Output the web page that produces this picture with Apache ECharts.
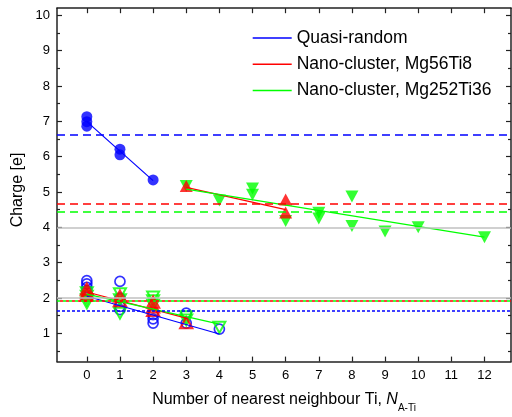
<!DOCTYPE html>
<html>
<head>
<meta charset="utf-8">
<script src="https://cdn.jsdelivr.net/npm/echarts@6/dist/echarts.min.js"></script>
<style>
  html, body { margin: 0; padding: 0; background: #fff; }
  #chart { width: 512px; height: 417px; }
</style>
</head>
<body>
<div id="chart"></div>
<script>
// Charge vs. number of nearest-neighbour Ti atoms, N(A-Ti)
const xTicks = [0, 1, 2, 3, 4, 5, 6, 7, 8, 9, 10, 11, 12];
const yTicks = [1, 2, 3, 4, 5, 6, 7, 8, 9, 10];
const yMinorTicks = [0.5, 1.5, 2.5, 3.5, 4.5, 5.5, 6.5, 7.5, 8.5, 9.5];

// Individual site charges [N, charge]
const quasiUpper = [[0, 7.13], [0, 6.99], [0, 6.86], [1, 6.21], [1, 6.05], [2, 5.34]];
const quasiLower = [[0, 2.49], [0, 2.40], [0, 2.30], [0, 2.20], [1, 2.47], [1, 2.00], [1, 1.76], [1, 1.67],
                    [2, 1.53], [2, 1.41], [2, 1.29], [3, 1.57], [3, 1.29], [4, 1.12]];
const mg56Upper = [[3, 5.17], [6, 4.79], [6, 4.42]];
const mg56Lower = [[0, 2.25], [0, 2.15], [0, 2.08], [1, 2.05], [1, 1.92], [2, 1.88], [2, 1.75], [2, 1.65], [3, 1.30]];
const mg252Upper = [[3, 5.17], [4, 4.76], [5, 5.10], [5, 4.92], [6, 4.18], [7, 4.41], [7, 4.25],
                    [8, 4.87], [8, 4.04], [9, 3.88], [10, 4.00], [12, 3.72]];
const mg252Lower = [[0, 2.15], [0, 2.05], [0, 1.95], [0, 1.86], [1, 2.12], [1, 1.95], [1, 1.57],
                    [2, 2.03], [2, 1.92], [2, 1.80], [3, 1.47], [3, 1.38], [4, 1.17]];

// Linear trend lines [N, charge] end points
const fitQuasiUpper = [[0, 6.99], [2, 5.32]];
const fitQuasiLower = [[0, 2.05], [4, 0.98]];
const fitMg56Upper = [[3, 5.13], [6, 4.50]];
const fitMg56Lower = [[0, 2.17], [3, 1.43]];
const fitMg252Upper = [[3, 5.08], [12, 3.72]];
const fitMg252Lower = [[0, 2.11], [4, 1.26]];

// Reference charge levels
const bulkLevels = [4, 2];
const quasiMeanUpper = 6.61, mg56MeanUpper = 4.68, mg252MeanUpper = 4.43;
const quasiMeanLower = 1.64, mg56MeanLower = 1.93, mg252MeanLower = 1.93;

const legendNames = ['Quasi-random', 'Nano-cluster, Mg56Ti8', 'Nano-cluster, Mg252Ti36'];

const BLUE = '#0000ff', RED = '#ff0000', GREEN = '#00ff00', GREY = '#c0c0c0', INK = '#222';
const FONT = 'Liberation Sans, Arial, sans-serif';

const chart = echarts.init(document.getElementById('chart'), null, { renderer: 'canvas' });

const frameLine = { show: true, onZero: false, lineStyle: { color: INK, width: 1.5 } };
const hiddenLine = { show: false, onZero: false };

function hLine(value, color, type, extra) {
  return Object.assign({ yAxis: value, lineStyle: { color: color, width: 1.5, type: type } }, extra || {});
}

function fitSeries(name, data, color) {
  return {
    name: name, type: 'line', data: data, symbol: 'none', z: 4,
    lineStyle: { color: color, width: 1.2 }, itemStyle: { color: color },
    silent: true, animation: false
  };
}

function yAxisDef(position, ticks, len, withLine, withLabels) {
  return {
    type: 'value', position: position, min: 0.2, max: 10.2,
    axisLine: withLine ? frameLine : hiddenLine,
    axisTick: { inside: true, length: len, customValues: ticks, lineStyle: { color: INK, width: 1.2 } },
    axisLabel: withLabels
      ? { customValues: ticks, fontFamily: FONT, fontSize: 13, color: '#000', margin: 7 }
      : { show: false },
    splitLine: { show: false }
  };
}

const option = {
  animation: false,
  grid: { left: 57, right: 1, top: 8.2, bottom: 55.4, containLabel: false },
  legend: {
    orient: 'vertical', left: 252.7, top: 29, padding: 0,
    icon: 'rect', itemWidth: 39, itemHeight: 1.5, itemGap: 8.3,
    textStyle: { fontFamily: FONT, fontSize: 17.5, color: '#000', lineHeight: 14 },
    data: legendNames
  },
  xAxis: [
    {
      type: 'value', position: 'bottom', min: -0.9, max: 12.8,
      axisLine: frameLine,
      axisTick: { inside: true, length: 5, customValues: xTicks, lineStyle: { color: INK, width: 1.2 } },
      axisLabel: { customValues: xTicks, fontFamily: FONT, fontSize: 13, color: '#000', margin: 7 },
      splitLine: { show: false }
    },
    {
      type: 'value', position: 'top', min: -0.9, max: 12.8,
      axisLine: frameLine,
      axisTick: { inside: true, length: 5, customValues: xTicks, lineStyle: { color: INK, width: 1.2 } },
      axisLabel: { show: false }, splitLine: { show: false }
    }
  ],
  yAxis: [
    yAxisDef('left', yTicks, 5, true, true),
    yAxisDef('left', yMinorTicks, 3, false, false),
    yAxisDef('right', yTicks, 5, true, false),
    yAxisDef('right', yMinorTicks, 3, false, false)
  ],
  graphic: [
    {
      type: 'text', x: 18, y: 190, rotation: Math.PI / 2,
      style: { text: 'Charge [e]', fontFamily: FONT, fontSize: 16, fill: '#000', align: 'center', verticalAlign: 'middle' }
    },
    {
      type: 'text', x: 284, y: 400,
      style: {
        text: '{t|Number of nearest neighbour Ti, }{i|N}{s|A-Ti}',
        align: 'center', verticalAlign: 'middle', fill: '#000',
        rich: {
          t: { fontFamily: FONT, fontSize: 16, lineHeight: 26, fill: '#000' },
          i: { fontFamily: FONT, fontSize: 16, fontStyle: 'italic', lineHeight: 26, fill: '#000' },
          s: { fontFamily: FONT, fontSize: 10, lineHeight: 10, verticalAlign: 'bottom', fill: '#000' }
        }
      }
    }
  ],
  series: [
    {
      name: 'levels', type: 'line', data: [], z: 1, silent: true,
      markLine: {
        silent: true, symbol: ['none', 'none'], label: { show: false }, animation: false,
        data: [
          hLine(bulkLevels[0], GREY, 'solid'),
          hLine(bulkLevels[1], GREY, 'solid'),
          hLine(quasiMeanUpper, BLUE, [8, 5]),
          hLine(mg56MeanUpper, RED, [8, 5]),
          hLine(mg252MeanUpper, GREEN, [8, 5]),
          hLine(quasiMeanLower, BLUE, [3, 2]),
          hLine(mg252MeanLower, GREEN, [3, 3]),
          { yAxis: mg56MeanLower, lineStyle: { color: RED, width: 1.5, type: [3, 3], dashOffset: 3 } }
        ]
      }
    },
    {
      name: 'Quasi-random sites', type: 'scatter', data: quasiUpper, z: 3,
      symbol: 'circle', symbolSize: 11, itemStyle: { color: BLUE }
    },
    {
      name: 'Quasi-random sites', type: 'scatter', data: quasiLower, z: 3,
      symbol: 'circle', symbolSize: 10,
      itemStyle: { color: 'rgba(0,0,0,0)', borderColor: BLUE, borderWidth: 1.7 }
    },
    {
      name: 'Mg252Ti36 sites', type: 'scatter', data: mg252Upper, z: 3,
      symbol: 'triangle', symbolRotate: 180, symbolSize: [13, 12], itemStyle: { color: GREEN }
    },
    {
      name: 'Mg252Ti36 sites', type: 'scatter', data: mg252Lower, z: 3,
      symbol: 'triangle', symbolRotate: 180, symbolSize: [12, 11],
      itemStyle: { color: 'rgba(0,0,0,0)', borderColor: GREEN, borderWidth: 2 }
    },
    {
      name: 'Mg56Ti8 sites', type: 'scatter', data: mg56Upper, z: 3,
      symbol: 'triangle', symbolSize: [13, 12], itemStyle: { color: RED }
    },
    {
      name: 'Mg56Ti8 sites', type: 'scatter', data: mg56Lower, z: 3,
      symbol: 'triangle', symbolSize: [12, 11],
      itemStyle: { color: 'rgba(0,0,0,0)', borderColor: RED, borderWidth: 2.2 }
    },
    fitSeries(legendNames[0], fitQuasiUpper, BLUE),
    fitSeries(legendNames[0], fitQuasiLower, BLUE),
    fitSeries(legendNames[1], fitMg56Upper, RED),
    fitSeries(legendNames[1], fitMg56Lower, RED),
    fitSeries(legendNames[2], fitMg252Upper, GREEN),
    fitSeries(legendNames[2], fitMg252Lower, GREEN)
  ]
};

chart.setOption(option);
</script>
</body>
</html>
